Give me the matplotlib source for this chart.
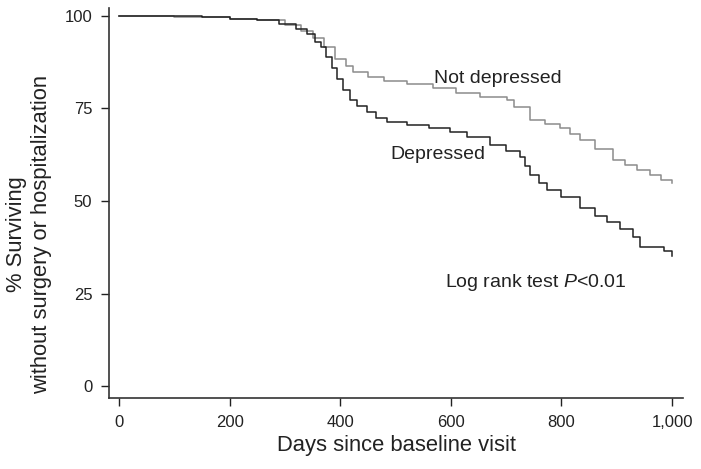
import matplotlib
matplotlib.use("Agg")
import matplotlib.pyplot as plt
from matplotlib.ticker import FuncFormatter

plt.rcParams["font.family"] = ["Liberation Sans", "DejaVu Sans"]
plt.rcParams["mathtext.fontset"] = "custom"
plt.rcParams["mathtext.it"] = "Liberation Sans:italic"
plt.rcParams["mathtext.rm"] = "Liberation Sans"

# Kaplan-Meier estimates (days, % surviving)
t_not = [0, 100, 200, 250, 300, 330, 350, 370, 390, 410, 423, 450, 480, 520, 568,
         610, 653, 701, 715, 743, 770, 797, 815, 834, 860, 894, 915, 937, 960, 980,
         1000]
s_not = [100, 99.8, 99.3, 98.8, 97.5, 96, 94, 91.5, 88.5, 86.5, 84.9, 83.5, 82.5,
         81.5, 80.5, 79.3, 78.1, 77.3, 75.5, 71.9, 70.8, 69.7, 68.2, 66.5, 64, 61.1,
         59.8, 58.4, 57, 55.8, 54.9]

t_dep = [0, 150, 200, 250, 290, 320, 340, 355, 365, 375, 385, 395, 405, 418, 430,
         448, 465, 484, 520, 560, 599, 630, 671, 700, 725, 735, 743, 760, 773, 800,
         834, 860, 882, 905, 929, 942, 973, 985, 1000]
s_dep = [100, 99.8, 99.3, 98.8, 97.8, 96.5, 95, 93, 91.5, 89, 86, 83, 80, 77.3,
         75.8, 74, 72.5, 71.4, 70.5, 69.6, 68.6, 67.2, 65.1, 63.5, 61.9, 59.5, 57,
         55, 53, 51, 48.1, 46, 44.3, 42.5, 40.3, 37.6, 37.6, 36.5, 35.1]

x_ticks = [0, 200, 400, 600, 800, 1000]
y_ticks = [0, 25, 50, 75, 100]

fig = plt.figure(figsize=(7.01, 4.69), dpi=100)
ax = fig.add_axes([0.1555, 0.1514, 0.819, 0.832])

ax.step(t_not, s_not, where="post", color="#8c8c8c", lw=1.1)
ax.step(t_dep, s_dep, where="post", color="#222222", lw=1.1)

ax.set_xlim(-18, 1020)
ax.set_ylim(-3.2, 102.2)
ax.set_xticks(x_ticks)
ax.set_yticks(y_ticks)
ax.xaxis.set_major_formatter(FuncFormatter(lambda v, p: f"{int(v):,}"))
ax.tick_params(direction="out", length=6, width=1, labelsize=12,
               colors="#222222", pad=6)
for side in ["top", "right"]:
    ax.spines[side].set_visible(False)
for side in ["left", "bottom"]:
    ax.spines[side].set_linewidth(1.2)
    ax.spines[side].set_color("#333333")

ax.set_xlabel("Days since baseline visit", fontsize=15.8, color="#222222", labelpad=4)
ax.set_ylabel("% Surviving\nwithout surgery or hospitalization", fontsize=15.8,
              color="#222222", linespacing=1.2)
ax.yaxis.set_label_coords(-0.1, 0.42)

ax.text(685, 83.2, "Not depressed", fontsize=14, ha="center", va="center",
        color="#222222")
ax.text(577, 62.7, "Depressed", fontsize=14, ha="center", va="center",
        color="#222222")
ax.text(754, 28.1, "Log rank test $\\mathit{P}$<0.01", fontsize=14, ha="center",
        va="center", color="#222222")

fig.savefig("out.png", dpi=100)
